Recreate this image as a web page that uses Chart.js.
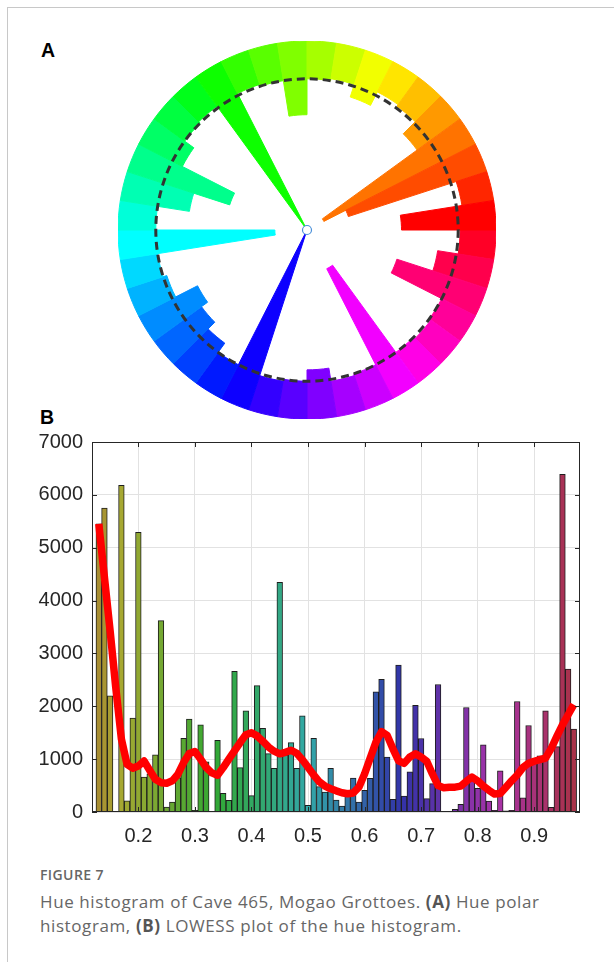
<!DOCTYPE html>
<html>
<head>
<meta charset="utf-8">
<script src="https://cdn.jsdelivr.net/npm/chart.js@4.4.1/dist/chart.umd.min.js"></script>
<style>
  html, body { margin: 0; padding: 0; background: #fff; }
  body { width: 614px; height: 962px; position: relative; overflow: hidden; }
  .frame { position: absolute; left: 7px; top: 7px; width: 620px; height: 970px; border-top: 1px solid #c8c8c8; border-left: 1px solid #c8c8c8; }
  .panel-label { position: absolute; font: bold 19.5px 'Liberation Sans', Arial, sans-serif; color: #000; }
  #polar { position: absolute; left: 118px; top: 41px; }
  #hist { position: absolute; left: 20px; top: 421px; }
  .fig-title { position: absolute; left: 40px; top: 865px; font: 600 14px 'Open Sans', sans-serif; letter-spacing: 0.4px; color: #666; }
  .caption { position: absolute; left: 40px; top: 890px; width: 540px; font: 17px/23.5px 'Open Sans', sans-serif; letter-spacing: 0.6px; color: #666; }
  .caption b { font-weight: 700; color: #555; }
</style>
</head>
<body>
<div class="frame"></div>
<div class="panel-label" style="left:41px; top:39px;">A</div>
<div class="panel-label" style="left:40px; top:406px;">B</div>
<canvas id="polar" width="378" height="378"></canvas>
<canvas id="hist" width="570" height="427"></canvas>
<div class="fig-title">FIGURE 7</div>
<div class="caption">Hue histogram of Cave 465, Mogao Grottoes. <b>(A)</b> Hue polar histogram, <b>(B)</b> LOWESS plot of the hue histogram.</div>

<script>
// ---- panel A: polar hue histogram (40 bins of 9 degrees, counter-clockwise from east)
const polarBinStart = [0, 9, 18, 27, 36, 45, 54, 63, 72, 81, 90, 99, 108, 117, 126, 135, 144, 153, 162, 171,
                       180, 189, 198, 207, 216, 225, 234, 243, 252, 261, 270, 279, 288, 297, 306, 315, 324, 333, 342, 351];
const polarCounts = [50, 17, 77, 90, 28, 19, 18, 26, 19, 20, 39, 20, 19, 100, 19, 20, 26, 57, 37, 20,
                     83, 20, 22, 35, 31, 26, 20, 100, 19, 20, 26, 19, 20, 77, 20, 19, 20, 50, 30, 19];
const polarRefLevel = 20;   // dashed circle
const polarMax = 100;

// ---- panel B: hue histogram + LOWESS
const binCenters = [0.13, 0.14, 0.15, 0.16, 0.17, 0.18, 0.19, 0.20, 0.21, 0.22, 0.23, 0.24, 0.25, 0.26, 0.27, 0.28, 0.29,
                    0.30, 0.31, 0.32, 0.33, 0.34, 0.35, 0.36, 0.37, 0.38, 0.39, 0.40, 0.41, 0.42, 0.43, 0.44, 0.45, 0.46,
                    0.47, 0.48, 0.49, 0.50, 0.51, 0.52, 0.53, 0.54, 0.55, 0.56, 0.57, 0.58, 0.59, 0.60, 0.61, 0.62, 0.63,
                    0.64, 0.65, 0.66, 0.67, 0.68, 0.69, 0.70, 0.71, 0.72, 0.73, 0.74, 0.75, 0.76, 0.77, 0.78, 0.79, 0.80,
                    0.81, 0.82, 0.83, 0.84, 0.85, 0.86, 0.87, 0.88, 0.89, 0.90, 0.91, 0.92, 0.93, 0.94, 0.95, 0.96, 0.97];
const histCounts = [5450, 5750, 2200, 15, 6180, 210, 1775, 5290, 663, 720, 1080, 3620, 95, 190, 650, 1396, 1756,
                    30, 1650, 950, 15, 1358, 354, 221, 2660, 840, 1914, 310, 2390, 1585, 1105, 828, 4346, 1080,
                    1314, 828, 1820, 126, 1396, 480, 379, 828, 227, 113, 411, 644, 190, 411, 638, 2273, 2508,
                    1040, 240, 2778, 303, 758, 2020, 1390, 254, 538, 2413, 0, 0, 50, 145, 1977, 600, 450,
                    1270, 208, 30, 777, 20, 30, 2090, 270, 1636, 980, 1061, 1914, 90, 1238, 6387, 2704, 1567];
const lowessCounts = [5450, 4440, 3430, 2360, 1380, 900, 830, 870, 965, 790, 620, 555, 545, 590, 715, 935, 1105,
                      1145, 1000, 840, 740, 695, 840, 1000, 1156, 1314, 1460, 1500, 1440, 1340, 1230, 1150, 1100, 1130,
                      1170, 1110, 990, 845, 700, 570, 490, 440, 400, 365, 345, 360, 470, 720, 1020, 1320, 1520,
                      1450, 1200, 970, 920, 1040, 1100, 1040, 960, 720, 500, 460, 470, 470, 490, 580, 660, 590,
                      490, 410, 340, 350, 470, 590, 700, 840, 920, 960, 990, 1020, 1200, 1430, 1650, 1840, 2030];
const xTickLabels = ['0.2', '0.3', '0.4', '0.5', '0.6', '0.7', '0.8', '0.9'];
const yTickLabels = ['0', '1000', '2000', '3000', '4000', '5000', '6000', '7000'];

function hsv(h, s, v) {
    const f = (n) => {
        const k = (n + h / 60) % 6;
        return Math.round(255 * (v - v * s * Math.max(0, Math.min(k, 4 - k, 1))));
    };
    return 'rgb(' + f(5) + ',' + f(3) + ',' + f(1) + ')';
}

// draw each polar bar from the (reversed) baseline at the rim inwards to its value
const ringBars = {
    id: 'ringBars',
    beforeDatasetsDraw(chart) {
        const scale = chart.scales.r;
        const meta = chart.getDatasetMeta(0);
        meta.data.forEach((arc, i) => {
            arc.innerRadius = scale.getDistanceFromCenterForValue(meta.controller.getParsed(i).r);
            arc.outerRadius = scale.getDistanceFromCenterForValue(scale.min);
        });
    }
};

const refCircle = {
    id: 'refCircle',
    afterDatasetsDraw(chart) {
        const scale = chart.scales.r;
        const ctx = chart.ctx;
        ctx.save();
        ctx.strokeStyle = '#333';
        ctx.lineWidth = 3;
        ctx.setLineDash([8, 5]);
        ctx.beginPath();
        ctx.arc(scale.xCenter, scale.yCenter, scale.getDistanceFromCenterForValue(polarRefLevel), 0, Math.PI * 2);
        ctx.stroke();
        ctx.setLineDash([]);
        ctx.fillStyle = '#fff';
        ctx.strokeStyle = '#4a90d9';
        ctx.lineWidth = 1.2;
        ctx.beginPath();
        ctx.arc(scale.xCenter, scale.yCenter, 4.5, 0, Math.PI * 2);
        ctx.fill();
        ctx.stroke();
        ctx.restore();
    }
};

// reversed so that arcs (drawn clockwise from east) run counter-clockwise in hue
const polarLabels = polarBinStart.slice().reverse();
const polarData = polarCounts.slice().reverse();
const polarColors = polarLabels.map(h => hsv(h, 1, 1));

new Chart(document.getElementById('polar'), {
    type: 'polarArea',
    data: {
        labels: polarLabels,
        datasets: [{
            data: polarData,
            backgroundColor: polarColors,
            borderColor: polarColors,
            borderWidth: 1
        }]
    },
    options: {
        responsive: false,
        animation: false,
        layout: { padding: 0 },
        plugins: { legend: { display: false }, tooltip: { enabled: false } },
        scales: {
            r: {
                min: 0,
                max: polarMax,
                reverse: true,
                startAngle: 90,
                ticks: { display: false },
                grid: { display: false },
                pointLabels: { display: false }
            }
        }
    },
    plugins: [ringBars, refCircle]
});

// box with inward ticks like the original axes
const axesBox = {
    id: 'axesBox',
    afterDatasetsDraw(chart) {
        const { ctx, chartArea: a, scales } = chart;
        ctx.save();
        ctx.strokeStyle = '#262626';
        ctx.lineWidth = 1;
        ctx.strokeRect(a.left + 0.5, a.top + 0.5, a.right - a.left - 1, a.bottom - a.top - 1);
        ctx.beginPath();
        scales.x.ticks.forEach(t => {
            const px = Math.round(scales.x.getPixelForValue(t.value)) + 0.5;
            ctx.moveTo(px, a.bottom); ctx.lineTo(px, a.bottom - 5);
            ctx.moveTo(px, a.top); ctx.lineTo(px, a.top + 5);
        });
        scales.y.ticks.forEach(t => {
            const py = Math.round(scales.y.getPixelForValue(t.value)) + 0.5;
            ctx.moveTo(a.left, py); ctx.lineTo(a.left + 5, py);
            ctx.moveTo(a.right, py); ctx.lineTo(a.right - 5, py);
        });
        ctx.stroke();
        ctx.restore();
    }
};

const tickFont = { family: "'Liberation Sans', Arial, sans-serif", size: 20 };

new Chart(document.getElementById('hist'), {
    data: {
        datasets: [
            {
                type: 'line',
                label: 'LOWESS',
                data: binCenters.map((x, i) => ({ x: x, y: lowessCounts[i] })),
                borderColor: '#ff0000',
                borderWidth: 7.5,
                pointRadius: 0,
                tension: 0,
                borderJoinStyle: 'round',
                borderCapStyle: 'butt'
            },
            {
                type: 'bar',
                label: 'Hue histogram',
                data: binCenters.map((x, i) => ({ x: x, y: histCounts[i] })),
                backgroundColor: binCenters.map(x => hsv(x * 360, 0.7, 0.66)),
                borderColor: '#1e1e1e',
                borderWidth: 1,
                borderSkipped: 'bottom',
                barPercentage: 1,
                categoryPercentage: 1,
                grouped: false
            }
        ]
    },
    options: {
        responsive: false,
        animation: false,
        layout: { padding: { left: 0, right: 10, top: 14, bottom: 0 } },
        plugins: { legend: { display: false }, tooltip: { enabled: false } },
        scales: {
            x: {
                type: 'linear',
                offset: false,
                min: 0.118,
                max: 0.981,
                afterBuildTicks: s => { s.ticks = xTickLabels.map(v => ({ value: parseFloat(v) })); },
                afterFit: s => { s.height = 36; },
                ticks: { callback: (v, i) => xTickLabels[i], font: tickFont, color: '#262626', padding: 12, maxRotation: 0 },
                grid: { color: '#e2e2e2', drawTicks: false, offset: false },
                border: { display: false }
            },
            y: {
                min: 0,
                max: 7000,
                afterBuildTicks: s => { s.ticks = yTickLabels.map(v => ({ value: Number(v) })); },
                afterFit: s => { s.width = 72; },
                ticks: { callback: (v, i) => yTickLabels[i], font: tickFont, color: '#262626', padding: 9 },
                grid: { color: '#e2e2e2', drawTicks: false },
                border: { display: false }
            }
        }
    },
    plugins: [axesBox]
});
</script>
</body>
</html>
